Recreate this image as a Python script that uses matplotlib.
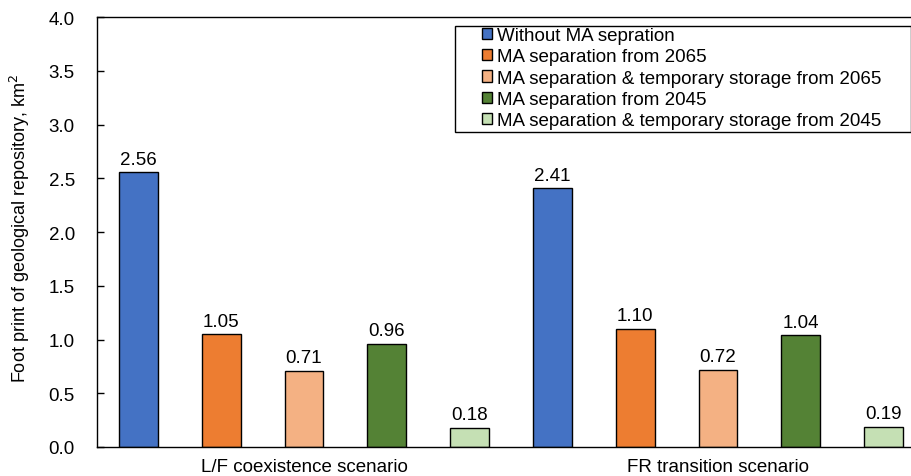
import matplotlib.pyplot as plt
from matplotlib.patches import Rectangle
import numpy as np

plt.rcParams['font.family'] = ['Liberation Sans', 'DejaVu Sans']

scenarios = ['L/F coexistence scenario', 'FR transition scenario']
series = ['Without MA sepration',
          'MA separation from 2065',
          'MA separation & temporary storage from 2065',
          'MA separation from 2045',
          'MA separation & temporary storage from 2045']
values_lf = [2.56, 1.05, 0.71, 0.96, 0.18]
values_fr = [2.41, 1.10, 0.72, 1.04, 0.19]
colors = ['#4472C4', '#ED7D31', '#F4B183', '#548235', '#C5E0B4']

W, H = 912, 477
fig = plt.figure(figsize=(W / 100, H / 100), dpi=100)
ax = fig.add_axes([97 / W, 1 - 448 / H, 814 / W, 430 / H])

n = len(series)
for i in range(n):
    xs = [i, n + i]
    vals = [values_lf[i], values_fr[i]]
    ax.bar(xs, vals, width=0.47, color=colors[i], edgecolor='black',
           linewidth=1, label=series[i])
    for x, v in zip(xs, vals):
        ax.text(x, v + 0.04, f'{v:.2f}', ha='center', va='bottom', fontsize=13.5)

ax.set_xlim(-0.5, -0.5 + 814 / 82.8)
ax.set_ylim(0, 4.0)
ticks = np.arange(0, 4.01, 0.5)
ax.set_yticks(ticks)
ax.set_yticklabels([f'{t:.1f}' for t in ticks], fontsize=13.5)
ax.tick_params(axis='y', direction='in', length=5, width=1, pad=16)
ax.set_xticks([2, n + 2])
ax.set_xticklabels(scenarios, fontsize=13.5)
ax.tick_params(axis='x', length=0, pad=8)
ax.spines['right'].set_visible(False)
for s in ['left', 'bottom', 'top']:
    ax.spines[s].set_linewidth(1)

fig.text(20 / W, 1 - 228 / H, 'Foot print of geological repository, km$^2$',
         rotation=90, ha='center', va='center', fontsize=13)

# legend frame drawn by hand, Excel-style padding
ax.add_patch(Rectangle((455 / W, 1 - 133 / H), 456 / W, 106 / H,
                       transform=fig.transFigure, facecolor='white',
                       edgecolor='black', linewidth=1, zorder=5, clip_on=False))
leg = ax.legend(loc='upper left', bbox_to_anchor=(482 / W, 1 - 28 / H),
                bbox_transform=fig.transFigure, fontsize=13.5, frameon=False,
                handlelength=0.55, handleheight=0.55, handletextpad=0.25,
                labelspacing=0.23, borderpad=0, borderaxespad=0)
leg.set_zorder(6)

fig.savefig('out.png', dpi=100)
